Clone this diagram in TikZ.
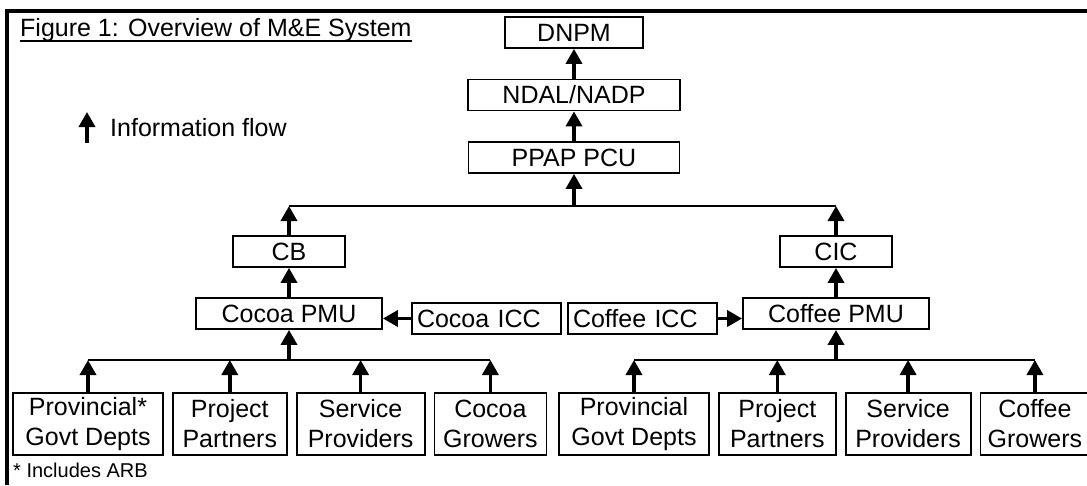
\documentclass[tikz,border=0pt]{standalone}
\usepackage{fontspec}
\setmainfont{Liberation Sans}
\usetikzlibrary{arrows.meta,positioning}

\begin{document}
\begin{tikzpicture}[
  x=1pt,y=-1pt,
  >={Triangle[length=15pt,width=16pt]},
  node distance=8pt,
  every node/.style={font=\fontsize{25}{30}\selectfont},
  unit/.style={draw,line width=1.8pt,inner sep=0pt,minimum height=31pt,align=center},
  source/.style={unit,minimum height=62pt},
  icc/.style={unit,text width=139pt,align=left,inner xsep=5pt},
  flow/.style={->,line width=3.5pt},
  bus/.style={line width=1.8pt}
]
  \useasboundingbox (0,0) rectangle (1087,485);
  \fill[white] (0,0) rectangle (1087,485);
  \draw[line width=4.5pt] (7,485) -- (7,11) -- (1087,11);

  \node[anchor=base west,inner sep=0pt] (title) at (20,36) {Figure 1: Overview of M\&E System};
  \draw[line width=1.8pt] ([yshift=-5pt]title.base west) -- ([yshift=-5pt]title.base east);

  \coordinate (legtail) at (87,143);
  \coordinate (leghead) at (87,112);
  \draw[flow] (legtail) -- (leghead);
  \node[anchor=west,inner sep=0pt] (legend) at (110,128) {Information flow};

  \node[unit,minimum width=138pt] (dnpm) at (574,32.5) {DNPM};
  \node[unit,minimum width=212pt] (ndal) at (574,95) {NDAL/NADP};
  \node[unit,minimum width=211pt] (pcu) at (574,157.5) {PPAP PCU};
  \node[unit,minimum width=112pt] (cb) at (289,251.5) {CB};
  \node[unit,minimum width=112pt] (cic) at (836,251.5) {CIC};
  \node[unit,minimum width=186pt] (cocoapmu) at (289,313.5) {Cocoa PMU};
  \node[unit,minimum width=186pt] (coffeepmu) at (836,313.5) {Coffee PMU};
  \node[icc] (cocoaicc) at (486.5,318.5) {Cocoa ICC};
  \node[icc] (coffeeicc) at (642.5,318.5) {Coffee ICC};

  \node[source,minimum width=150pt] (prov1) at (88,424) {Provincial*\\Govt Depts};
  \node[source,minimum width=114pt,right=of prov1] (part1) {Project\\Partners};
  \node[source,minimum width=128pt,right=of part1] (serv1) {Service\\Providers};
  \node[source,minimum width=112pt,right=of serv1] (grow1) {Cocoa\\Growers};
  \node[source,minimum width=150pt] (prov2) at (634,424) {Provincial\\Govt Depts};
  \node[source,minimum width=117pt,right=of prov2] (part2) {Project\\Partners};
  \node[source,minimum width=125pt,right=of part2] (serv2) {Service\\Providers};
  \node[source,minimum width=109pt,right=of serv2] (grow2) {Coffee\\Growers};

  \node[anchor=west,inner sep=0pt,font=\fontsize{20}{24}\selectfont] (note) at (13,470) {* Includes ARB};

  \coordinate (topbus) at (574,206);
  \coordinate (cocoabus) at (289,360);
  \coordinate (coffeebus) at (836,360);

  \draw[flow] (ndal) -- (dnpm);
  \draw[flow] (pcu) -- (ndal);
  \draw[flow] (topbus) -- (pcu);
  \draw[bus] (cb.north |- topbus) -- (cic.north |- topbus);
  \draw[flow] (cb) -- (cb.north |- topbus);
  \draw[flow] (cic) -- (cic.north |- topbus);
  \draw[flow] (cocoapmu) -- (cb);
  \draw[flow] (coffeepmu) -- (cic);
  \draw[flow] (cocoaicc.west) -- (cocoaicc.west -| cocoapmu.east);
  \draw[flow] (coffeeicc.east) -- (coffeeicc.east -| coffeepmu.west);

  \draw[flow] (cocoabus) -- (cocoapmu);
  \draw[bus] (prov1.north |- cocoabus) -- (grow1.north |- cocoabus);
  \draw[flow] (prov1) -- (prov1.north |- cocoabus);
  \draw[flow] (part1) -- (part1.north |- cocoabus);
  \draw[flow] (serv1) -- (serv1.north |- cocoabus);
  \draw[flow] (grow1) -- (grow1.north |- cocoabus);

  \draw[flow] (coffeebus) -- (coffeepmu);
  \draw[bus] (prov2.north |- coffeebus) -- (grow2.north |- coffeebus);
  \draw[flow] (prov2) -- (prov2.north |- coffeebus);
  \draw[flow] (part2) -- (part2.north |- coffeebus);
  \draw[flow] (serv2) -- (serv2.north |- coffeebus);
  \draw[flow] (grow2) -- (grow2.north |- coffeebus);
\end{tikzpicture}
\end{document}
